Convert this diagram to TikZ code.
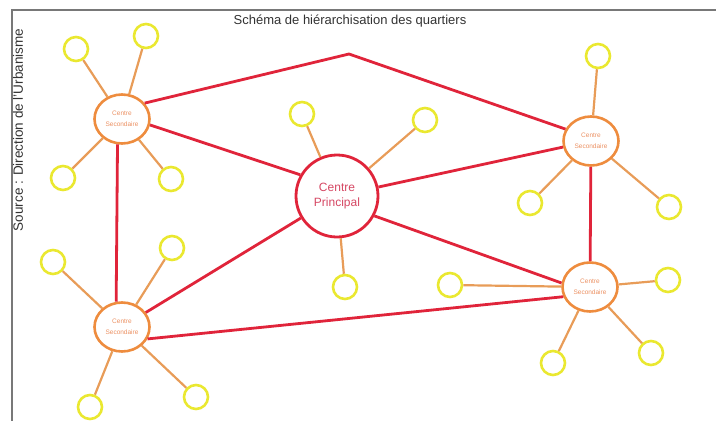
\documentclass[tikz,border=0pt]{standalone}
\usepackage{fontspec}
\setmainfont{Liberation Sans}
\usetikzlibrary{shapes.geometric}
\definecolor{linkred}{RGB}{224,36,58}
\definecolor{secorange}{RGB}{238,140,62}
\definecolor{spokeorange}{RGB}{232,156,88}
\definecolor{ringyellow}{RGB}{234,232,48}
\definecolor{ptext}{RGB}{214,72,100}
\definecolor{sectext}{RGB}{236,146,100}
\definecolor{framegray}{RGB}{120,120,120}
\definecolor{titlegray}{RGB}{50,50,50}
\begin{document}
\begin{tikzpicture}[
    x=1pt, y=-1pt,
    secondaire/.style={ellipse, draw=secorange, line width=2.6pt, fill=white, minimum width=55pt,
        minimum height=49pt, inner sep=0pt, align=center, text=sectext, font=\fontsize{6.5}{11}\selectfont},
    principal/.style={circle, draw=linkred, line width=2.8pt, fill=white, minimum size=82pt,
        inner sep=0pt, align=center, text=ptext, font=\fontsize{12}{15}\selectfont},
    quartier/.style={circle, draw=ringyellow, line width=2.6pt, fill=white, minimum size=24pt, inner sep=0pt},
    liaison/.style={draw=linkred, line width=2.8pt, line join=round},
    rayon/.style={draw=spokeorange, line width=2.2pt}
]
    \useasboundingbox (0,0) rectangle (716,421);
    % Frame and texts
    \draw [framegray, line width=1.8pt] (716,10) -- (12,10) -- (12,421);
    \node [anchor=base, text=titlegray, font=\fontsize{13}{15}\selectfont] (titre) at (350,24)
        {Schéma de hiérarchisation des quartiers};
    \node [anchor=base, rotate=90, text=titlegray, font=\fontsize{13.5}{15}\selectfont] (source) at (23,130)
        {Source : Direction de l'Urbanisme};

    % Centres
    \node [principal] (p) at (337,196) {Centre\\Principal};
    \node [secondaire] (tl) at (122,119) {Centre\\Secondaire};
    \node [secondaire] (bl) at (122,327) {Centre\\Secondaire};
    \node [secondaire] (tr) at (591,141) {Centre\\Secondaire};
    \node [secondaire] (br) at (590,287) {Centre\\Secondaire};
    \coordinate (apex) at (349,54);

    % Quartiers
    \node [quartier] (tl1) at (76,49) {};
    \node [quartier] (tl2) at (146,36) {};
    \node [quartier] (tl3) at (63,178) {};
    \node [quartier] (tl4) at (171,179) {};
    \node [quartier] (p1) at (302,114) {};
    \node [quartier] (p2) at (425,120) {};
    \node [quartier] (p3) at (345,287) {};
    \node [quartier] (tr1) at (598,56) {};
    \node [quartier] (tr2) at (530,203) {};
    \node [quartier] (tr3) at (669,207) {};
    \node [quartier] (br1) at (450,285) {};
    \node [quartier] (br2) at (668,280) {};
    \node [quartier] (br3) at (553,363) {};
    \node [quartier] (br4) at (651,353) {};
    \node [quartier] (bl1) at (53,262) {};
    \node [quartier] (bl2) at (172,248) {};
    \node [quartier] (bl3) at (90,407) {};
    \node [quartier] (bl4) at (196,397) {};

    % Connections
    \draw [liaison] (tl.35) -- (apex) -- (tr.155);
    \draw [liaison] (tl.-12) -- (p.150);
    \draw [liaison] (tl.260) -- (bl.103);
    \draw [liaison] (p) -- (tr);
    \draw [liaison] (p.-28) -- (br.172);
    \draw [liaison] (p) -- (bl);
    \draw [liaison] (tr) -- (br);
    \draw [liaison] (bl.-25) -- (br.200);

    \draw [rayon] (tl) -- (tl1);
    \draw [rayon] (tl) -- (tl2);
    \draw [rayon] (tl) -- (tl3);
    \draw [rayon] (tl) -- (tl4);
    \draw [rayon] (p) -- (p1);
    \draw [rayon] (p) -- (p2);
    \draw [rayon] (p) -- (p3);
    \draw [rayon] (tr) -- (tr1);
    \draw [rayon] (tr) -- (tr2);
    \draw [rayon] (tr) -- (tr3);
    \draw [rayon] (br) -- (br1);
    \draw [rayon] (br) -- (br2);
    \draw [rayon] (br) -- (br3);
    \draw [rayon] (br) -- (br4);
    \draw [rayon] (bl) -- (bl1);
    \draw [rayon] (bl) -- (bl2);
    \draw [rayon] (bl) -- (bl3);
    \draw [rayon] (bl) -- (bl4);
\end{tikzpicture}
\end{document}
